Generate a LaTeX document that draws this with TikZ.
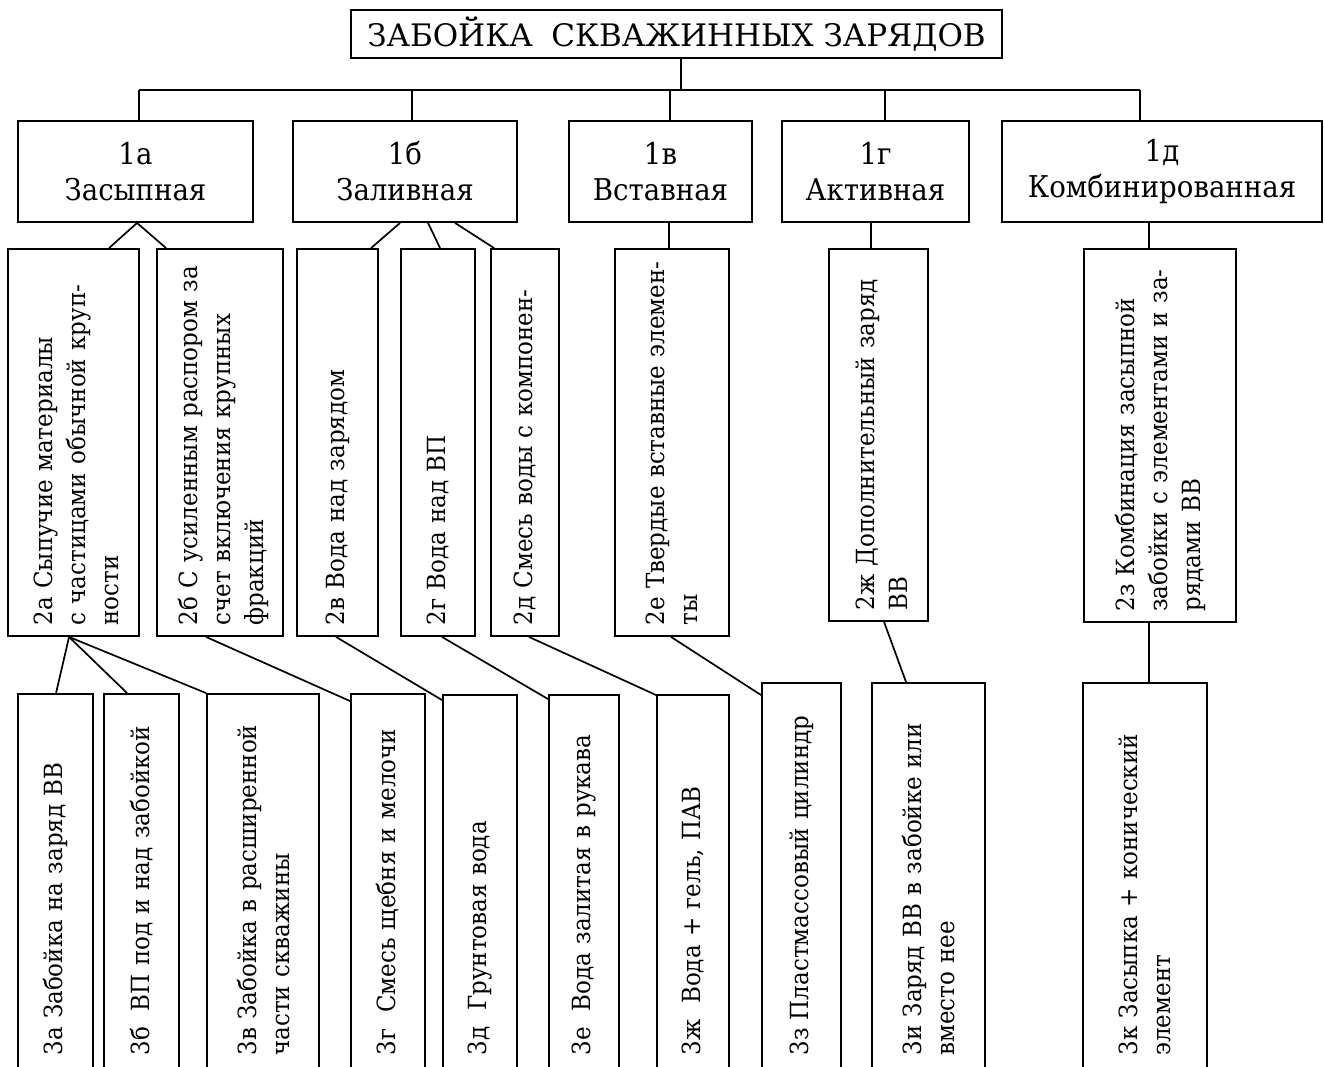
\documentclass[tikz,border=0pt]{standalone}
\usepackage{fontspec}
\setmainfont{DejaVu Serif}[FakeStretch=0.92]
\newfontfamily\titfam{DejaVu Serif}[FakeStretch=1.0]
\usetikzlibrary{fit,calc}
\newcommand\bigf{\fontsize{15}{18}\selectfont}
\newcommand\titf{\titfam\fontsize{15.5}{18}\selectfont}
\newcommand\smf{\fontsize{12.5}{16.5}\selectfont}
\newcommand\jl[1]{\makebox[\hsize][s]{#1}}
\newcommand\wsp{\hspace{8pt}}
\tikzset{
  box/.style={draw, line width=0.95pt, inner sep=0pt},
  conn/.style={line width=0.85pt},
  htxt/.style={align=center, font=\bigf, inner sep=0pt},
  vtxt/.style={rotate=90, anchor=west, inner sep=0pt, align=left, font=\smf},
}
\begin{document}
\begin{tikzpicture}[x=0.5pt,y=-0.5pt]
\useasboundingbox (0,0) rectangle (1325,1066);
\clip (0,0) rectangle (1325,1066);
% title
\node[box, fit={(351,10) (1002,58)}] (top) {};
\node[htxt, font=\titf] (ttop) at (top.center) {ЗАБОЙКА\hspace{0.6em}СКВАЖИННЫХ ЗАРЯДОВ};
% level 1
\node[box, fit={(18,121) (253,222)}] (l1a) {};
\node[box, fit={(293,121) (517,222)}] (l1b) {};
\node[box, fit={(569,121) (752,222)}] (l1c) {};
\node[box, fit={(782,121) (969,222)}] (l1d) {};
\node[box, fit={(1002,121) (1322,222)}] (l1e) {};
\node[htxt] (t1a) at (l1a.center) {1а\\Засыпная};
\node[htxt] (t1b) at (l1b.center) {1б\\Заливная};
\node[htxt] (t1c) at (l1c.center) {1в\\Вставная};
\node[htxt] (t1d) at (l1d.center) {1г\\Активная};
\node[htxt] (t1e) at (l1e.center) {1д\\Комбинированная};
% bus
\coordinate (b0) at (681,90);
\coordinate (b1) at (139,90);
\coordinate (b2) at (412,90);
\coordinate (b3) at (670,90);
\coordinate (b4) at (885,90);
\coordinate (b5) at (1140,90);
\draw[conn] (top.south -| b0) -- (b0);
\draw[conn] (b1) -- (b5);
\foreach \b/\n in {b1/l1a,b2/l1b,b3/l1c,b4/l1d,b5/l1e}
  \draw[conn] (\b) -- (\b |- \n.north);
% level 2
\node[box, fit={(8,249) (139,636)}] (l2a) {};
\node[box, fit={(157,249) (283,636)}] (l2b) {};
\node[box, fit={(297,249) (378,636)}] (l2c) {};
\node[box, fit={(401,249) (475,636)}] (l2d) {};
\node[box, fit={(491,249) (559,636)}] (l2e) {};
\node[box, fit={(615,249) (729,636)}] (l2f) {};
\node[box, fit={(829,249) (928,621)}] (l2g) {};
\node[box, fit={(1084,249) (1236,622)}] (l2h) {};
\node[vtxt, text width=182.5pt] (t2a) at ($(l2a.south)+(3,-11)$) {2а Сыпучие материалы\\\jl{с частицами обычной круп-}\\ности};
\node[vtxt, text width=182.5pt] (t2b) at ($(l2b.south)+(3,-11)$) {\jl{2б С усиленным распором за}\\\jl{счет включения крупных}\\фракций};
\node[vtxt, text width=182.5pt] (t2c) at ($(l2c.south)+(0,-11)$) {2в Вода над зарядом};
\node[vtxt, text width=182.5pt] (t2d) at ($(l2d.south)+(0,-11)$) {2г Вода над ВП};
\node[vtxt, text width=182.5pt] (t2e) at ($(l2e.south)+(0,-11)$) {\jl{2д Смесь воды с компонен-}};
\node[vtxt, text width=182.5pt] (t2f) at ($(l2f.south)+(0,-11)$) {\jl{2е Твердые вставные элемен-}\\ты};
\node[vtxt, text width=175pt] (t2g) at ($(l2g.south)+(3,-11)$) {\jl{2ж Дополнительный заряд}\\ВВ};
\node[vtxt, text width=175pt] (t2h) at ($(l2h.south)+(0,-11)$) {\jl{2з Комбинация засыпной}\\\jl{забойки с элементами и за-}\\рядами ВВ};
% level 1 -> 2
\draw[conn] ($(l1a.south west)+(120,0)$) coordinate (a1) -- ($(l2a.north west)+(102,0)$);
\draw[conn] (a1) -- ($(l2b.north west)+(10,0)$);
\draw[conn] ($(l1b.south west)+(108,0)$) -- ($(l2c.north west)+(75,0)$);
\draw[conn] ($(l1b.south west)+(136,0)$) -- ($(l2d.north west)+(40,0)$);
\draw[conn] ($(l1b.south west)+(163,0)$) -- ($(l2e.north west)+(4,0)$);
\draw[conn] ($(l1c.south west)+(101,0)$) coordinate (c1) -- (c1 |- l2f.north);
\draw[conn] ($(l1d.south west)+(90,0)$) coordinate (c2) -- (c2 |- l2g.north);
\draw[conn] ($(l1e.south west)+(148,0)$) coordinate (c3) -- (c3 |- l2h.north);
% level 3
\node[box, fit={(18,694) (93,1068)}] (l3a) {};
\node[box, fit={(104,694) (179,1068)}] (l3b) {};
\node[box, fit={(207,694) (319,1068)}] (l3c) {};
\node[box, fit={(351,694) (425,1068)}] (l3d) {};
\node[box, fit={(443,695) (517,1068)}] (l3e) {};
\node[box, fit={(549,695) (619,1068)}] (l3f) {};
\node[box, fit={(657,695) (729,1068)}] (l3g) {};
\node[box, fit={(762,683) (841,1068)}] (l3h) {};
\node[box, fit={(872,683) (985,1068)}] (l3i) {};
\node[box, fit={(1083,683) (1207,1068)}] (l3j) {};
\node[vtxt, text width=175pt] (t3a) at ($(l3a.south)+(0,-13)$) {3а Забойка на заряд ВВ};
\node[vtxt, text width=175pt] (t3b) at ($(l3b.south)+(0,-13)$) {3б\wsp ВП под и над забойкой};
\node[vtxt, text width=175pt] (t3c) at ($(l3c.south)+(0,-13)$) {\jl{3в Забойка в расширенной}\\части скважины};
\node[vtxt, text width=175pt] (t3d) at ($(l3d.south)+(0,-13)$) {3г\wsp Смесь щебня и мелочи};
\node[vtxt, text width=175pt] (t3e) at ($(l3e.south)+(0,-13)$) {3д\wsp Грунтовая вода};
\node[vtxt, text width=175pt] (t3f) at ($(l3f.south)+(0,-13)$) {3е\wsp Вода залитая в рукава};
\node[vtxt, text width=175pt] (t3g) at ($(l3g.south)+(0,-13)$) {3ж\wsp Вода + гель, ПАВ};
\node[vtxt, text width=180.5pt] (t3h) at ($(l3h.south)+(0,-13)$) {3з Пластмассовый цилиндр};
\node[vtxt, text width=180.5pt] (t3i) at ($(l3i.south)+(0,-13)$) {\jl{3и Заряд ВВ в забойке или}\\вместо нее};
\node[vtxt, text width=180.5pt] (t3j) at ($(l3j.south)+(0,-13)$) {\jl{3к Засыпка + конический}\\элемент};
% level 2 -> 3
\draw[conn] ($(l2a.south west)+(62,0)$) coordinate (a2) -- ($(l3a.north west)+(39,0)$);
\draw[conn] (a2) -- ($(l3b.north west)+(24,0)$);
\draw[conn] (a2) -- (l3c.north west);
\draw[conn] ($(l2b.south west)+(50,0)$) -- ($(l3d.north west)+(0,8)$);
\draw[conn] ($(l2c.south west)+(40,0)$) -- ($(l3e.north west)+(0,6)$);
\draw[conn] ($(l2d.south west)+(42,0)$) -- ($(l3f.north west)+(0,5)$);
\draw[conn] ($(l2e.south west)+(39,0)$) -- ($(l3g.north west)+(0,1)$);
\draw[conn] ($(l2f.south west)+(57,0)$) -- ($(l3h.north west)+(0,13)$);
\draw[conn] ($(l2g.south west)+(56,0)$) -- ($(l3i.north west)+(35,0)$);
\draw[conn] ($(l2h.south west)+(66,0)$) coordinate (c4) -- (c4 |- l3j.north);
\end{tikzpicture}
\end{document}
